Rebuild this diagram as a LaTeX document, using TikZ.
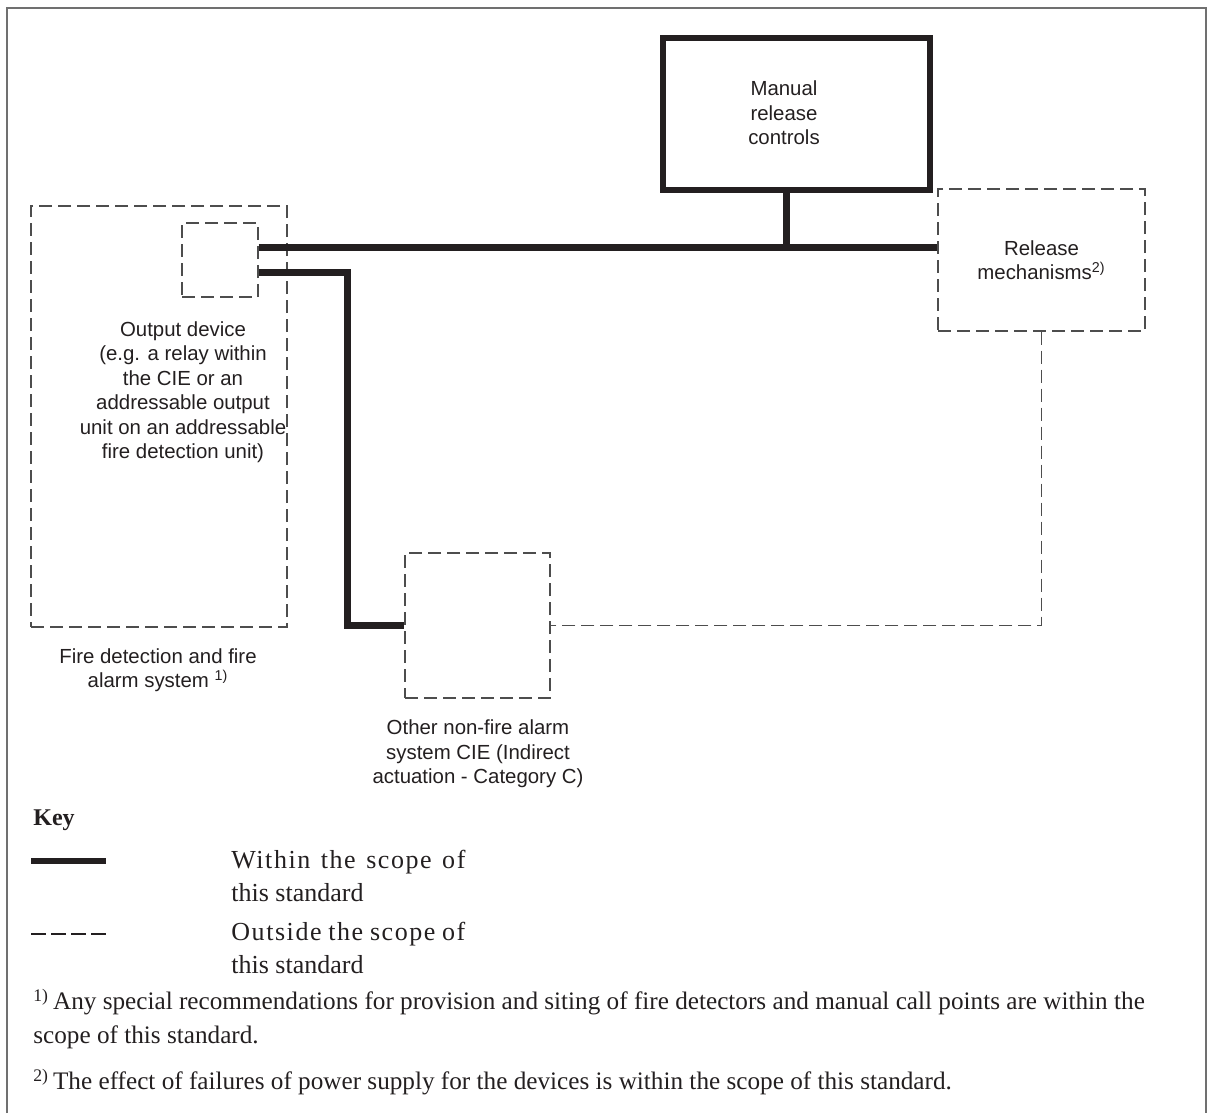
\documentclass[tikz,border=0pt]{standalone}
\usepackage{fontspec}
\setmainfont{Liberation Serif}
\newfontfamily\diagfont{Liberation Sans}
\usetikzlibrary{positioning,calc}
\definecolor{ink}{HTML}{231F20}
\definecolor{dashgray}{HTML}{4D4D4D}
\definecolor{framegray}{HTML}{707070}

\begin{document}
\begin{tikzpicture}[x=0.5pt,y=-0.5pt,
    outbox/.style={draw=dashgray, line width=0.7pt, dash pattern=on 6.5pt off 3pt, inner sep=0pt},
    inbox/.style={draw=ink, line width=3pt, inner sep=0pt},
    inline/.style={draw=ink, line width=3.5pt, line join=miter},
    outline/.style={draw=dashgray, line width=0.7pt, dash pattern=on 6.5pt off 3pt},
    lbl/.style={font=\diagfont\fontsize{10.2}{12.25}\selectfont, align=center, text=ink, inner sep=0pt},
    keytext/.style={font=\fontsize{13}{16.5}\selectfont, align=left, anchor=west, text=ink, inner sep=0pt},
    notetext/.style={font=\fontsize{12.6}{17}\selectfont, align=left, anchor=west, text=ink, inner sep=0pt}]
    \useasboundingbox (0,0) rectangle (1208,1113);

    % Frame
    \draw[framegray, line width=0.75pt] (7,1113) -- (7,8) -- (1206,8) -- (1206,1113);

    % Boxes
    \node[outbox, minimum width=128pt, minimum height=210.5pt] (fdas) at (159,416.5) {};
    \node[outbox, minimum width=38pt, minimum height=37pt] (outdev) at (220,260) {};
    \node[inbox, minimum width=133.5pt, minimum height=76pt] (manual) at (796.5,114) {};
    \node[outbox, lbl, minimum width=103.5pt, minimum height=71pt] (release) at (1041.5,260) {Release\\mechanisms\textsuperscript{2)}};
    \node[outbox, minimum width=72.5pt, minimum height=72.5pt] (othercie) at (477.5,625.5) {};

    % Labels
    \node[lbl] (mantxt) at (784,113) {Manual\\release\\controls};
    \node[lbl] (outtxt) at (183,392) {Output device\\(e.g. a relay within\\the CIE or an\\addressable output\\unit on an addressable\\fire detection unit)};
    \node[lbl] (fdastxt) at (158,670) {Fire detection and fire\\alarm system \textsuperscript{1)}};
    \node[lbl] (cietxt) at (478,754) {Other non-fire alarm\\system CIE (Indirect\\actuation - Category C)};

    % Connections
    \coordinate (tap) at (786,247);
    \draw[inline] ([yshift=6.5pt]outdev.east) -- ([yshift=6.5pt]release.west);
    \draw[inline] (manual.south -| tap) -- (tap);
    \draw[inline] ([yshift=-6pt]outdev.east) -- ++(89,0) |- (othercie.west);
    \draw[outline] (release.south) |- (othercie.east);

    % Key
    \node[keytext, font=\fontsize{12}{16.5}\selectfont\bfseries] (key) at (33,820) {Key};
    \coordinate (inA) at (31,861);
    \coordinate (inB) at (106,861);
    \draw[inline, line width=3pt] (inA) -- (inB);
    \node[keytext] (intxt) at (231,875.5) {\makebox[117pt][s]{\addfontfeature{LetterSpace=6}Within the scope of}\\this standard};
    \coordinate (outA) at (31,934);
    \coordinate (outB) at (106,934);
    \draw[draw=ink, line width=0.6pt, dash pattern=on 7.5pt off 2.5pt] (outA) -- (outB);
    \node[keytext] (outtxt2) at (231,948) {\makebox[117pt][s]{\addfontfeature{LetterSpace=6}Outside the scope of}\\this standard};

    % Notes
    \node[notetext] (note1) at (33,1019) {\textsuperscript{1)}\hspace{2pt}Any special recommendations for provision and siting of fire detectors and manual call points are within the\\scope of this standard.};
    \node[notetext] (note2) at (33,1082) {\textsuperscript{2)}\hspace{2pt}The effect of failures of power supply for the devices is within the scope of this standard.};
\end{tikzpicture}
\end{document}
